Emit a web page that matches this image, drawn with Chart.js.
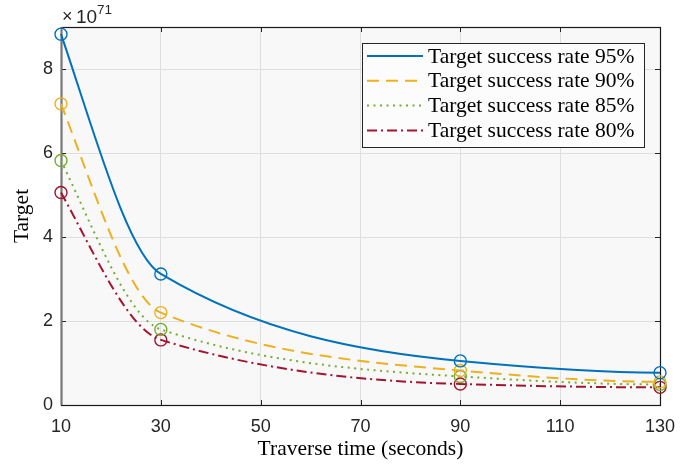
<!DOCTYPE html>
<html>
<head>
<meta charset="utf-8">
<title>Target vs traverse time</title>
<script src="https://cdn.jsdelivr.net/npm/chart.js@4.4.1/dist/chart.umd.min.js"></script>
<style>
  html, body { margin: 0; padding: 0; background: #fff; }
  #chart { display: block; }
</style>
</head>
<body>
<canvas id="chart" width="699" height="465"></canvas>
<script>
// values are in units of 10^71
const traverseTimes = [10, 30, 90, 130];
const rate95 = [8.83, 3.12, 1.05, 0.77];
const rate90 = [7.17, 2.20, 0.82, 0.55];
const rate85 = [5.82, 1.80, 0.68, 0.49];
const rate80 = [5.06, 1.55, 0.50, 0.42];
const seriesLabels = ['Target success rate 95%', 'Target success rate 90%', 'Target success rate 85%', 'Target success rate 80%'];
const xTicks = [10, 30, 50, 70, 90, 110, 130];
const yTicks = [0, 2, 4, 6, 8];
const yExponent = '71';

const colors = ['#0072BD', '#EDB120', '#77AC30', '#A2142F'];
const dashes = [[], [12, 7], [2, 4.5], [10, 4, 2, 4]];
const SERIF = '"Liberation Serif", "Times New Roman", serif';
const SANS = '"Liberation Sans", Arial, sans-serif';

function series(values, i) {
  return {
    label: seriesLabels[i],
    data: traverseTimes.map((t, k) => ({ x: t, y: values[k] })),
    borderColor: colors[i],
    borderWidth: 2,
    borderDash: dashes[i],
    cubicInterpolationMode: 'monotone',
    fill: false,
    pointStyle: 'circle',
    pointRadius: 6,
    pointBorderWidth: 1.4,
    pointBackgroundColor: 'rgba(0,0,0,0)',
    pointBorderColor: colors[i],
    clip: false
  };
}

// shape-preserving (pchip) tangents instead of chart.js' averaged ones
function pchipSlopes(xs, ys) {
  const n = xs.length;
  const h = [], d = [];
  for (let k = 0; k < n - 1; k++) {
    h.push(xs[k + 1] - xs[k]);
    d.push((ys[k + 1] - ys[k]) / h[k]);
  }
  const m = new Array(n).fill(0);
  for (let k = 1; k < n - 1; k++) {
    if (d[k - 1] * d[k] > 0) {
      const w1 = 2 * h[k] + h[k - 1], w2 = h[k] + 2 * h[k - 1];
      m[k] = (w1 + w2) / (w1 / d[k - 1] + w2 / d[k]);
    }
  }
  const edge = (h0, h1, d0, d1) => {
    let s = ((2 * h0 + h1) * d0 - h0 * d1) / (h0 + h1);
    if (Math.sign(s) !== Math.sign(d0)) s = 0;
    else if (Math.sign(d0) !== Math.sign(d1) && Math.abs(s) > Math.abs(3 * d0)) s = 3 * d0;
    return s;
  };
  m[0] = edge(h[0], h[1], d[0], d[1]);
  m[n - 1] = edge(h[n - 2], h[n - 3], d[n - 2], d[n - 3]);
  return m;
}

const pchipCurves = {
  id: 'pchipCurves',
  beforeDatasetsDraw(chart) {
    chart.data.datasets.forEach((ds, i) => {
      const line = chart.getDatasetMeta(i).dataset;
      line.updateControlPoints(chart.chartArea, 'x');
      const pts = line.points;
      const m = pchipSlopes(pts.map(p => p.x), pts.map(p => p.y));
      for (let k = 0; k < pts.length - 1; k++) {
        const a = pts[k], b = pts[k + 1];
        const dx = (b.x - a.x) / 3;
        a.cp2x = a.x + dx; a.cp2y = a.y + m[k] * dx;
        b.cp1x = b.x - dx; b.cp1y = b.y - m[k + 1] * dx;
      }
    });
  }
};

// axes box, inward ticks, exponent and legend in the MATLAB look
const axesDecor = {
  id: 'axesDecor',
  beforeDraw(chart) {
    const { ctx, chartArea: a } = chart;
    ctx.save();
    ctx.fillStyle = '#f8f8f8';
    ctx.fillRect(a.left, a.top, a.right - a.left, a.bottom - a.top);
    ctx.restore();
  },
  beforeDatasetsDraw(chart) {
    const { ctx, chartArea: a, scales } = chart;
    ctx.save();
    ctx.strokeStyle = '#262626';
    ctx.lineWidth = 1;
    ctx.beginPath();
    xTicks.forEach(v => {
      const x = Math.round(scales.x.getPixelForValue(v)) + 0.5;
      ctx.moveTo(x, a.bottom); ctx.lineTo(x, a.bottom - 5);
      ctx.moveTo(x, a.top); ctx.lineTo(x, a.top + 5);
    });
    yTicks.forEach(v => {
      const y = Math.round(scales.y.getPixelForValue(v)) + 0.5;
      ctx.moveTo(a.left, y); ctx.lineTo(a.left + 5, y);
      ctx.moveTo(a.right, y); ctx.lineTo(a.right - 5, y);
    });
    ctx.stroke();
    ctx.lineWidth = 1.2;
    ctx.strokeStyle = '#1a1a1a';
    ctx.strokeRect(Math.round(a.left) + 0.5, Math.round(a.top) + 0.5,
      Math.round(a.right - a.left), Math.round(a.bottom - a.top));
    ctx.strokeStyle = '#777';
    ctx.lineWidth = 2;
    ctx.beginPath();
    ctx.moveTo(Math.round(a.left) + 0.5, a.top);
    ctx.lineTo(Math.round(a.left) + 0.5, a.bottom);
    ctx.stroke();
    ctx.restore();
  },
  afterDraw(chart) {
    const { ctx, chartArea: a } = chart;
    ctx.save();
    // exponent above the y axis
    ctx.fillStyle = '#262626';
    ctx.textBaseline = 'alphabetic';
    ctx.textAlign = 'left';
    ctx.font = '18px ' + SANS;
    ctx.fillText('\u00d7', a.left + 1, a.top - 5);
    ctx.font = '19px ' + SANS;
    ctx.fillText('10', a.left + 15, a.top - 4);
    ctx.font = '13.5px ' + SANS;
    ctx.fillText(yExponent, a.left + 36, a.top - 13);

    // legend box
    const boxW = 282, boxH = 104;
    const bx = a.right - 16 - boxW, by = a.top + 16;
    ctx.fillStyle = '#fcfcfc';
    ctx.fillRect(bx, by, boxW, boxH);
    ctx.strokeStyle = '#262626';
    ctx.lineWidth = 1;
    ctx.strokeRect(bx + 0.5, by + 0.5, boxW, boxH);
    ctx.font = '21.5px ' + SERIF;
    ctx.textBaseline = 'middle';
    chart.data.datasets.forEach((ds, i) => {
      const y = by + 13 + i * 24.8;
      ctx.strokeStyle = ds.borderColor;
      ctx.lineWidth = 2;
      ctx.setLineDash(ds.borderDash);
      ctx.beginPath();
      ctx.moveTo(bx + 5, y);
      ctx.lineTo(bx + 61, y);
      ctx.stroke();
      ctx.setLineDash([]);
      ctx.fillStyle = '#000';
      ctx.fillText(ds.label, bx + 66, y + 1);
    });
    ctx.restore();
  }
};

const ctx = document.getElementById('chart').getContext('2d');
const chart = new Chart(ctx, {
  type: 'line',
  data: {
    datasets: [rate95, rate90, rate85, rate80].map(series)
  },
  options: {
    responsive: false,
    animation: false,
    devicePixelRatio: 1,
    layout: { padding: { left: 0, top: 27, right: 39, bottom: 0 } },
    plugins: {
      legend: { display: false },
      tooltip: { enabled: false }
    },
    scales: {
      x: {
        type: 'linear',
        min: 10,
        max: 130,
        afterBuildTicks: s => { s.ticks = xTicks.map(v => ({ value: v })); },
        afterFit: s => { s.height = 60; },
        border: { display: false },
        grid: { color: '#dedede', lineWidth: 1, drawTicks: false },
        ticks: { color: '#262626', font: { family: SANS, size: 18 }, padding: 11, maxRotation: 0 },
        title: {
          display: true,
          text: 'Traverse time (seconds)',
          color: '#000',
          font: { family: SERIF, size: 21.5 },
          padding: { top: 0, bottom: 3 }
        }
      },
      y: {
        type: 'linear',
        min: 0,
        max: 9,
        afterBuildTicks: s => { s.ticks = yTicks.map(v => ({ value: v })); },
        afterFit: s => { s.width = 61; },
        border: { display: false },
        grid: { color: '#dedede', lineWidth: 1, drawTicks: false },
        ticks: { color: '#262626', font: { family: SANS, size: 18 }, padding: 8 },
        title: {
          display: true,
          text: 'Target',
          color: '#000',
          font: { family: SERIF, size: 21.5 },
          padding: { top: 9, bottom: 0 }
        }
      }
    }
  },
  plugins: [pchipCurves, axesDecor]
});
</script>
</body>
</html>
